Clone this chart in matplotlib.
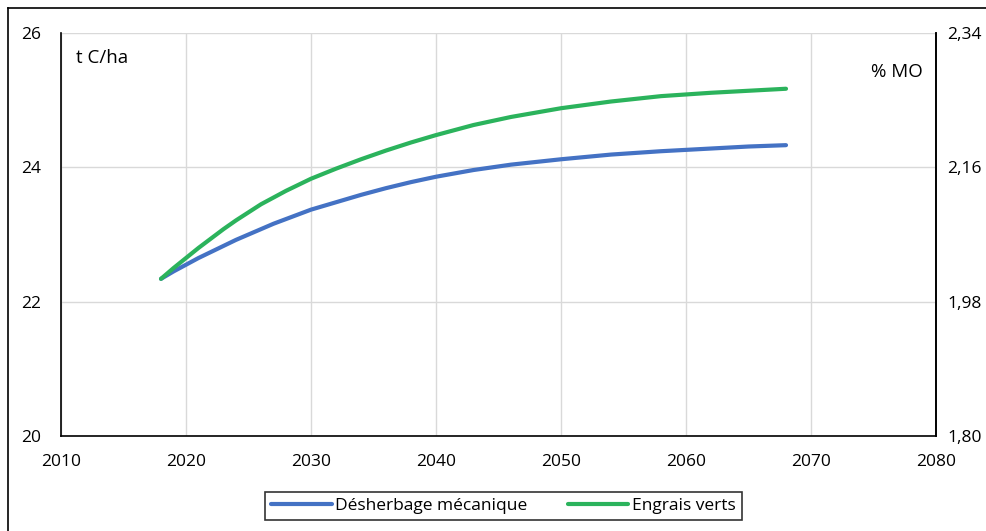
import matplotlib
matplotlib.use('Agg')
import matplotlib.pyplot as plt
from matplotlib.lines import Line2D

plt.rcParams['font.family'] = ['Open Sans', 'DejaVu Sans']

# données
annees = [2018, 2019, 2020, 2021, 2022, 2023, 2024, 2025, 2026, 2027, 2028, 2029, 2030,
          2032, 2034, 2036, 2038, 2040, 2043, 2046, 2050, 2054, 2058, 2062, 2065, 2068]
desherbage = [22.34, 22.45, 22.55, 22.65, 22.74, 22.83, 22.92, 23.00, 23.08, 23.16, 23.23, 23.30, 23.37,
              23.48, 23.59, 23.69, 23.78, 23.86, 23.96, 24.04, 24.12, 24.19, 24.24, 24.28, 24.31, 24.33]
engrais_verts = [22.34, 22.50, 22.65, 22.80, 22.94, 23.08, 23.21, 23.33, 23.45, 23.55, 23.65, 23.74, 23.83,
                 23.98, 24.12, 24.25, 24.37, 24.48, 24.63, 24.75, 24.88, 24.98, 25.06, 25.11, 25.14, 25.17]

x_ticks = [2010, 2020, 2030, 2040, 2050, 2060, 2070, 2080]
y_ticks = [20, 22, 24, 26]
mo_ticks = [1.80, 1.98, 2.16, 2.34]
mo_labels = ['1,80', '1,98', '2,16', '2,34']

bleu = '#4472C4'
vert = '#2BB35C'

fig = plt.figure(figsize=(9.87, 5.31), dpi=100)
ax = fig.add_axes([61 / 987, 1 - 436 / 531, 875 / 987, 403 / 531])

ax.plot(annees, desherbage, color=bleu, linewidth=3, solid_capstyle='round',
        solid_joinstyle='round', label='Désherbage mécanique')
ax.plot(annees, engrais_verts, color=vert, linewidth=3, solid_capstyle='round',
        solid_joinstyle='round', label='Engrais verts')

ax.set_xlim(2010, 2080)
ax.set_ylim(20, 26)
ax.set_xticks(x_ticks)
ax.set_yticks(y_ticks)
ax.grid(True, color='#D9D9D9', linewidth=1)
ax.set_axisbelow(True)
ax.tick_params(axis='x', length=0, pad=13, labelsize=12.5)
ax.tick_params(axis='y', length=0, pad=14, labelsize=12.5)

ax.spines['top'].set_visible(False)
for side in ['left', 'bottom', 'right']:
    ax.spines[side].set_color('black')
    ax.spines[side].set_linewidth(1.2)

ax2 = ax.twinx()
ax2.set_ylim(1.80, 2.34)
ax2.set_yticks(mo_ticks)
ax2.set_yticklabels(mo_labels)
ax2.tick_params(axis='y', length=0, pad=8, labelsize=12.5)
for side in ['top', 'left', 'bottom']:
    ax2.spines[side].set_visible(False)
ax2.spines['right'].set_color('black')
ax2.spines['right'].set_linewidth(1.2)

ax.text(0.017, 0.938, 't C/ha', transform=ax.transAxes, fontsize=13.5, va='center', ha='left')
ax.text(0.985, 0.903, '% MO', transform=ax.transAxes, fontsize=13.5, va='center', ha='right')

handles = [Line2D([], [], color=bleu, linewidth=3, solid_capstyle='round'),
           Line2D([], [], color=vert, linewidth=3, solid_capstyle='round')]
leg = fig.legend(handles, ['Désherbage mécanique', 'Engrais verts'], loc='center',
                 bbox_to_anchor=(0.51, 0.047), ncol=2, fontsize=12.5, frameon=True,
                 fancybox=False, edgecolor='black', handlelength=3.5, handletextpad=0.2,
                 columnspacing=2.3, borderpad=0.35, borderaxespad=0)
leg.get_frame().set_linewidth(1.2)

# cadre du graphique
fig.add_artist(Line2D([8 / 987, 8 / 987], [0, 1 - 8 / 531], color='black', linewidth=1.2))
fig.add_artist(Line2D([8 / 987, 1], [1 - 8 / 531, 1 - 8 / 531], color='black', linewidth=1.2))

fig.savefig('out.png', dpi=100)
